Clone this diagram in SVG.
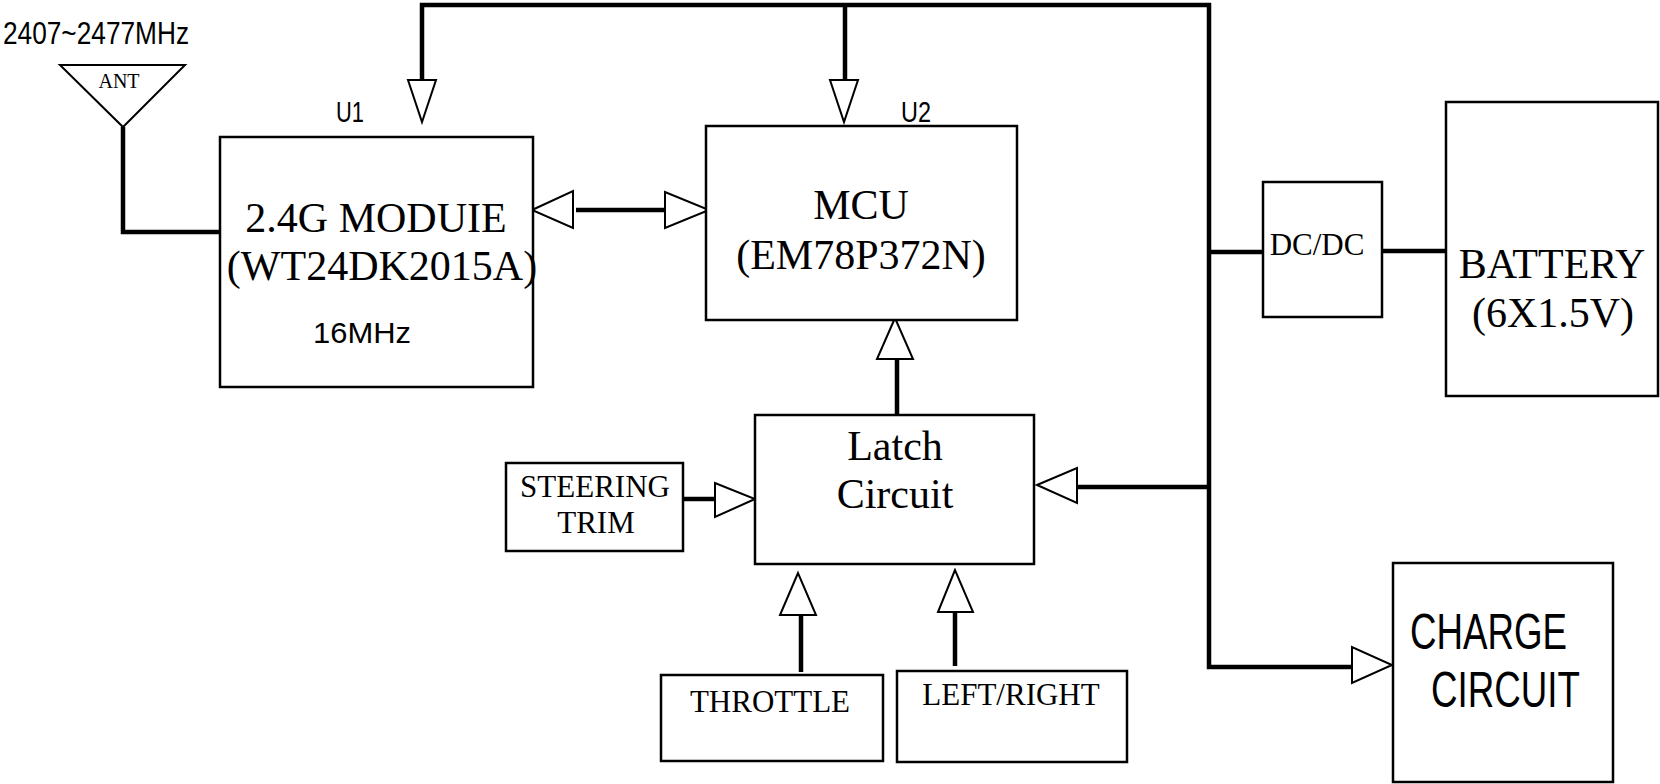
<svg xmlns="http://www.w3.org/2000/svg" width="1660" height="784" viewBox="0 0 1660 784">
<style>
.box{fill:#fff;stroke:#000;stroke-width:2.5}
.wire{fill:none;stroke:#000;stroke-width:4.5;stroke-linecap:butt;stroke-linejoin:miter}
.head{fill:#fff;stroke:#000;stroke-width:2;stroke-linejoin:miter}
.serif{font-family:"Liberation Serif","Times New Roman",serif;fill:#000;text-anchor:middle}
.sans{font-family:"Liberation Sans",Arial,sans-serif;fill:#000}
.big{font-size:42px}
.mid{font-size:31px}
</style>
<rect width="1660" height="784" fill="#fff"/>
<g id="connectors">
  <path class="wire" d="M422,80 V5 H1209 V667 H1352"/>
  <path class="wire" d="M845,5 V80"/>
  <path class="wire" d="M1209,252 H1263"/>
  <path class="wire" d="M1382,251 H1446"/>
  <path class="wire" d="M1209,487 H1077"/>
  <path class="wire" d="M123,127 V232 H222"/>
  <path class="wire" d="M576,210 H665"/>
  <path class="wire" d="M897,415 V359"/>
  <path class="wire" d="M683,499 H715"/>
  <path class="wire" d="M801,672 V615"/>
  <path class="wire" d="M955,666 V612"/>
  <polygon class="head" points="408,80 436,80 422,122"/>
  <polygon class="head" points="830,80 858,80 844,122"/>
  <polygon class="head" points="532,210 573,191 573,228"/>
  <polygon class="head" points="665,192 665,228 709,210"/>
  <polygon class="head" points="895,318 877,359 913,359"/>
  <polygon class="head" points="715,483 715,517 755,499"/>
  <polygon class="head" points="1037,485 1077,468 1077,503"/>
  <polygon class="head" points="798,573 780,615 816,615"/>
  <polygon class="head" points="955,570 938,612 973,612"/>
  <polygon class="head" points="1352,647 1352,683 1392,665"/>
</g>
<g id="freq">
  <text class="sans" x="3" y="44" font-size="32" textLength="186" lengthAdjust="spacingAndGlyphs">2407~2477MHz</text>
</g>
<g id="antenna">
  <polygon points="60,65 185,65 123,127" fill="#fff" stroke="#000" stroke-width="2"/>
  <text class="serif" x="119" y="88" font-size="20">ANT</text>
</g>
<g id="u1">
  <text class="sans" x="336" y="122" font-size="30" textLength="28" lengthAdjust="spacingAndGlyphs">U1</text>
  <rect class="box" x="220" y="137" width="313" height="250"/>
  <text class="serif big" x="376" y="232">2.4G MODUIE</text>
  <text class="serif big" x="382" y="280">(WT24DK2015A)</text>
  <text class="sans" x="313" y="343" font-size="30" textLength="98" lengthAdjust="spacingAndGlyphs">16MHz</text>
</g>
<g id="u2">
  <text class="sans" x="901" y="122" font-size="30" textLength="30" lengthAdjust="spacingAndGlyphs">U2</text>
  <rect class="box" x="706" y="126" width="311" height="194"/>
  <text class="serif big" x="861" y="219">MCU</text>
  <text class="serif big" x="861" y="269">(EM78P372N)</text>
</g>
<g id="dcdc">
  <rect class="box" x="1263" y="182" width="119" height="135"/>
  <text class="serif mid" x="1317" y="255">DC/DC</text>
</g>
<g id="battery">
  <rect class="box" x="1446" y="102" width="212" height="294"/>
  <text class="serif big" x="1552" y="278">BATTERY</text>
  <text class="serif big" x="1553" y="327">(6X1.5V)</text>
</g>
<g id="latch">
  <rect class="box" x="755" y="415" width="279" height="149"/>
  <text class="serif big" x="895" y="460">Latch</text>
  <text class="serif big" x="895" y="508">Circuit</text>
</g>
<g id="steering">
  <rect class="box" x="506" y="463" width="177" height="88"/>
  <text class="serif mid" x="595" y="497">STEERING</text>
  <text class="serif mid" x="596" y="533">TRIM</text>
</g>
<g id="throttle">
  <rect class="box" x="661" y="675" width="222" height="86"/>
  <text class="serif mid" x="770" y="712">THROTTLE</text>
</g>
<g id="leftright">
  <rect class="box" x="897" y="671" width="230" height="91"/>
  <text class="serif mid" x="1011" y="705">LEFT/RIGHT</text>
</g>
<g id="charge">
  <rect class="box" x="1393" y="563" width="220" height="219"/>
  <text class="sans" x="1410" y="649" font-size="50" textLength="157" lengthAdjust="spacingAndGlyphs">CHARGE</text>
  <text class="sans" x="1431" y="707" font-size="50" textLength="149" lengthAdjust="spacingAndGlyphs">CIRCUIT</text>
</g>
</svg>
